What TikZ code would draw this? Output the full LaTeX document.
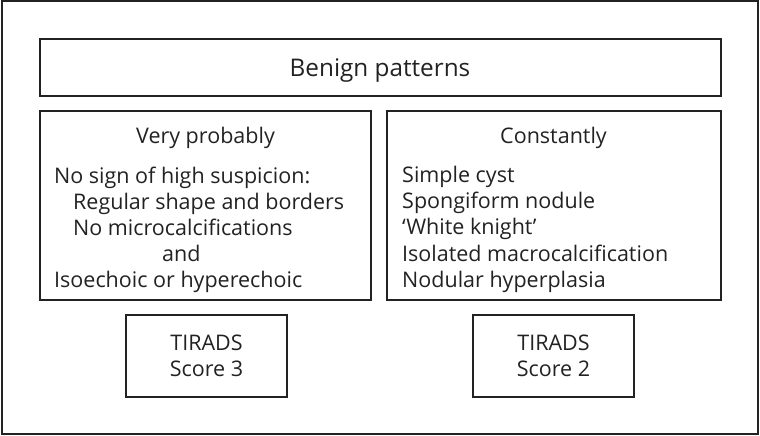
\documentclass[tikz,border=0pt]{standalone}
\usepackage{fontspec}
\setmainfont{Open Sans}
\definecolor{ink}{HTML}{222222}
\begin{document}
\begin{tikzpicture}[x=1pt,y=-1pt,
  box/.style={draw=ink,line width=2pt,inner sep=0pt,rectangle},
  txt/.style={inner sep=0pt,text=ink,font=\fontsize{21.5}{26}\selectfont},
  big/.style={inner sep=0pt,text=ink,font=\fontsize{24.3}{29}\selectfont}]
\useasboundingbox (0,0) rectangle (760,436);
\node[box,minimum width=756pt,minimum height=432pt] (outer) at (379.5,217.5) {};
\node[box,minimum width=681pt,minimum height=56.5pt] (benign) at (380,67.75) {};
\node[box,minimum width=331pt,minimum height=189pt] (vp) at (205.5,205.5) {};
\node[box,minimum width=333.5pt,minimum height=189pt] (const) at (553.75,205.5) {};
\node[box,minimum width=161pt,minimum height=81.5pt] (t3) at (206.5,355.75) {};
\node[box,minimum width=161pt,minimum height=81.5pt] (t2) at (553.5,355.75) {};
\node[big,anchor=base] (tb) at (380,77) {Benign patterns};
\node[txt,anchor=base] (h1) at (205.5,143) {Very probably};
\node[txt,anchor=base west] (l1) at (54,183) {No sign of high suspicion:};
\node[txt,anchor=base west] (l2) at (73,209) {Regular shape and borders};
\node[txt,anchor=base west] (l3) at (73,235) {No microcalcifications};
\node[txt,anchor=base west] (l4) at (162,261) {and};
\node[txt,anchor=base west] (l5) at (54,287) {Isoechoic or hyperechoic};
\node[txt,anchor=base] (h2) at (553.5,143) {Constantly};
\node[txt,anchor=base west] (r1) at (402,182) {Simple cyst};
\node[txt,anchor=base west] (r2) at (402,208) {Spongiform nodule};
\node[txt,anchor=base west] (r3) at (402,234) {‘White knight’};
\node[txt,anchor=base west] (r4) at (402,261) {Isolated macrocalcification};
\node[txt,anchor=base west] (r5) at (402,287) {Nodular hyperplasia};
\node[txt,anchor=base] (a1) at (206.5,350) {TIRADS};
\node[txt,anchor=base] (a2) at (206.5,376) {Score 3};
\node[txt,anchor=base] (b1) at (553.5,350) {TIRADS};
\node[txt,anchor=base] (b2) at (553.5,376) {Score 2};
\end{tikzpicture}
\end{document}
